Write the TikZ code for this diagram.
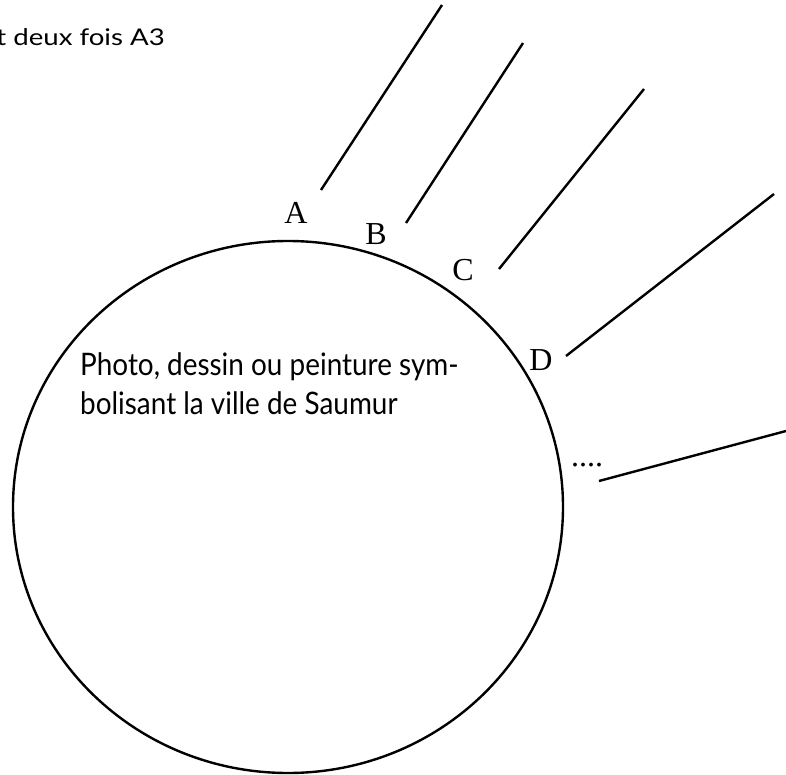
\documentclass[tikz,border=0pt]{standalone}
\usepackage{fontspec}
\setmainfont{Liberation Serif}
\newfontfamily\labsans{Lato}
\begin{document}
\begin{tikzpicture}[x=1pt,y=-1pt,
  ray/.style={line width=2.4pt},
  ring/.style={line width=2.4pt},
  letter/.style={inner sep=0pt,font=\fontsize{32}{32}\selectfont},
  body/.style={inner sep=0pt,align=left,xscale=0.9,transform shape,font=\labsans\fontsize{31}{39}\selectfont},
  note/.style={inner sep=0pt,xscale=1.2,transform shape,font=\labsans\fontsize{23}{27}\selectfont}]
\useasboundingbox (0,0) rectangle (786,775);
\clip (0,0) rectangle (786,775);
\draw[ring] (288,507) ellipse [x radius=275pt, y radius=266pt];
\node[note,anchor=base east] (top) at (165,46) {t deux fois A3};
\node[body,anchor=base west] (txt) at (80,414) {Photo, dessin ou peinture sym-\\bolisant la ville de Saumur};
\node[letter,anchor=base] (A) at (296,224) {A};
\node[letter,anchor=base] (B) at (376,245) {B};
\node[letter,anchor=base] (C) at (463,280) {C};
\node[letter,anchor=base] (D) at (541,370) {D};
\node[letter,anchor=base west] (E) at (571,466) {....};
\coordinate (a1) at (321,190); \coordinate (a2) at (442,5);
\coordinate (b1) at (406,223); \coordinate (b2) at (523,43);
\coordinate (c1) at (499,269); \coordinate (c2) at (644,89);
\coordinate (d1) at (566,356); \coordinate (d2) at (774,194);
\coordinate (e1) at (599,481); \coordinate (e2) at (786,431);
\draw[ray] (a1) -- (a2);
\draw[ray] (b1) -- (b2);
\draw[ray] (c1) -- (c2);
\draw[ray] (d1) -- (d2);
\draw[ray] (e1) -- (e2);
\end{tikzpicture}
\end{document}
